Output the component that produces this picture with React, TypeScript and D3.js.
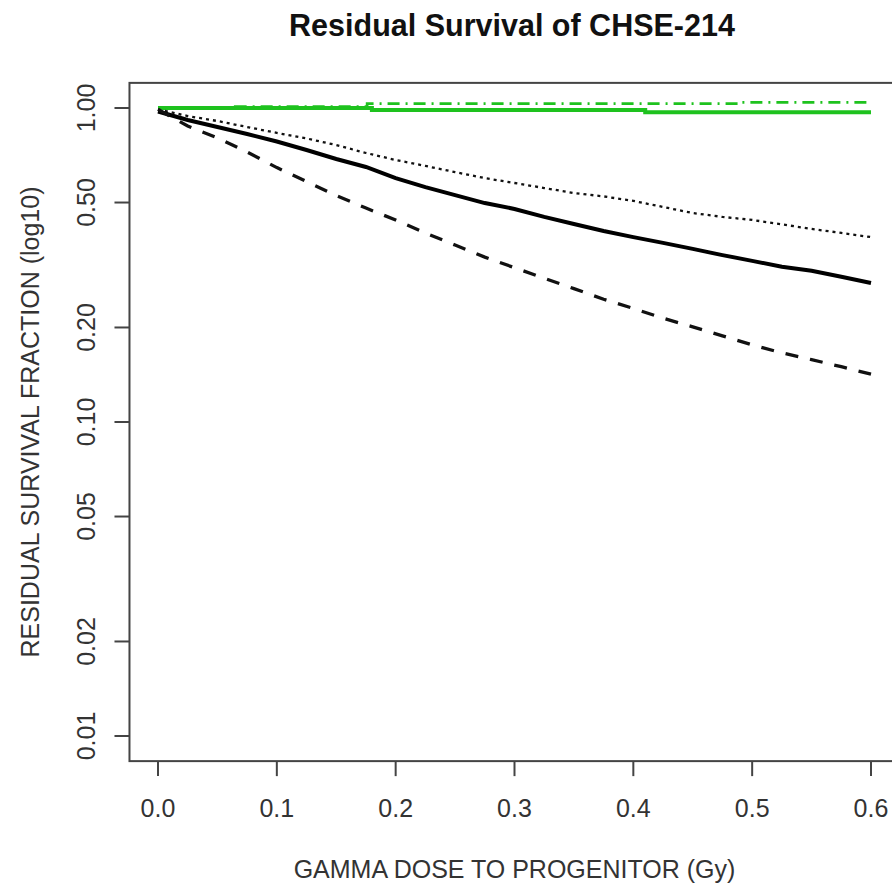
import * as d3 from 'd3';

const WIDTH = 892;
const HEIGHT = 886;

// dose grid shared by the black curves
const doses = [
  0, 0.025, 0.05, 0.075, 0.1, 0.125, 0.15, 0.175, 0.2, 0.225, 0.25, 0.275, 0.3,
  0.325, 0.35, 0.375, 0.4, 0.425, 0.45, 0.475, 0.5, 0.525, 0.55, 0.575, 0.6,
];

const solidBlack = [
  0.975, 0.916, 0.87, 0.826, 0.782, 0.735, 0.688, 0.649, 0.598, 0.56, 0.528, 0.498, 0.477,
  0.45, 0.427, 0.406, 0.388, 0.372, 0.356, 0.34, 0.326, 0.312, 0.303, 0.29, 0.277,
];

const dottedBlack = [
  0.99, 0.943, 0.909, 0.87, 0.833, 0.8, 0.762, 0.719, 0.683, 0.654, 0.625, 0.598, 0.577,
  0.556, 0.536, 0.523, 0.506, 0.484, 0.463, 0.45, 0.44, 0.426, 0.412, 0.4, 0.388,
];

const dashedBlack = [
  0.99, 0.876, 0.803, 0.724, 0.646, 0.583, 0.526, 0.48, 0.44, 0.4, 0.366, 0.335, 0.31,
  0.287, 0.266, 0.246, 0.23, 0.214, 0.201, 0.188, 0.176, 0.166, 0.158, 0.15, 0.142,
];

// green (control) curves are step-like
const greenSolidDose = [0, 0.18, 0.18, 0.41, 0.41, 0.6];
const greenSolid = [1.0, 1.0, 0.985, 0.985, 0.97, 0.97];

const greenDashDose = [0, 0.065, 0.065, 0.176, 0.176, 0.49, 0.49, 0.6];
const greenDash = [1.0, 1.0, 1.01, 1.01, 1.033, 1.033, 1.042, 1.042];

const xTicks = [0, 0.1, 0.2, 0.3, 0.4, 0.5, 0.6];
const xTickLabels = ['0.0', '0.1', '0.2', '0.3', '0.4', '0.5', '0.6'];
const yTicks = [0.01, 0.02, 0.05, 0.1, 0.2, 0.5, 1];
const yTickLabels = ['0.01', '0.02', '0.05', '0.10', '0.20', '0.50', '1.00'];

const FONT = '"Liberation Sans", Arial, Helvetica, sans-serif';
const GREEN = '#1ec21e';

function App() {
  const x = d3.scaleLinear().domain([0, 0.6]).range([158, 871]);
  const y = d3.scaleLog().domain([0.01, 1]).range([736, 108]);

  // R style 4% padding around the data range
  const x0 = x(-0.024);
  const x1 = x(0.624);
  const yTop = 108 - (736 - 108) * 0.04;
  const yBot = 736 + (736 - 108) * 0.04;

  const line = d3.line<[number, number]>()
    .x((d) => x(d[0]))
    .y((d) => y(d[1]));

  const pts = (xs: number[], ys: number[]) => xs.map((d, i) => [d, ys[i]] as [number, number]);

  return (
    <svg
      width={WIDTH}
      height={HEIGHT}
      style={{ position: 'absolute', left: 0, top: 0, background: '#fff' }}
      fontFamily={FONT}
    >
      <text x={512} y={36} textAnchor="middle" fontSize={30.5} fontWeight="bold" fill="#111">
        Residual Survival of CHSE-214
      </text>

      {/* curves */}
      <path d={line(pts(greenSolidDose, greenSolid)) || ''} fill="none" stroke={GREEN} strokeWidth={4} />
      <path
        d={line(pts(greenDashDose, greenDash)) || ''}
        fill="none"
        stroke={GREEN}
        strokeWidth={2.7}
        strokeDasharray="12,6,2,6"
      />
      <path
        d={line(pts(doses, dottedBlack)) || ''}
        fill="none"
        stroke="#111"
        strokeWidth={2.3}
        strokeDasharray="3,4"
      />
      <path d={line(pts(doses, solidBlack)) || ''} fill="none" stroke="#000" strokeWidth={4} />
      <path
        d={line(pts(doses, dashedBlack)) || ''}
        fill="none"
        stroke="#111"
        strokeWidth={3.3}
        strokeDasharray="13,12"
      />

      {/* box */}
      <rect x={x0} y={yTop} width={x1 - x0} height={yBot - yTop} fill="none" stroke="#444" strokeWidth={2} />

      {/* x axis */}
      {xTicks.map((t, i) => (
        <g key={t}>
          <line x1={x(t)} x2={x(t)} y1={yBot} y2={yBot + 15} stroke="#444" strokeWidth={2} />
          <text x={x(t)} y={817} textAnchor="middle" fontSize={25} fill="#333">
            {xTickLabels[i]}
          </text>
        </g>
      ))}
      <text x={(x0 + x1) / 2} y={878} textAnchor="middle" fontSize={25} fill="#333">
        GAMMA DOSE TO PROGENITOR (Gy)
      </text>

      {/* y axis */}
      {yTicks.map((t, i) => (
        <g key={t}>
          <line x1={x0} x2={x0 - 15} y1={y(t)} y2={y(t)} stroke="#444" strokeWidth={2} />
          <text
            transform={`translate(95,${y(t)}) rotate(-90)`}
            textAnchor="middle"
            fontSize={25}
            fill="#333"
          >
            {yTickLabels[i]}
          </text>
        </g>
      ))}
      <text
        transform={`translate(39,${(yTop + yBot) / 2}) rotate(-90)`}
        textAnchor="middle"
        fontSize={25}
        fill="#333"
      >
        RESIDUAL SURVIVAL FRACTION (log10)
      </text>
    </svg>
  );
}

export default App;
